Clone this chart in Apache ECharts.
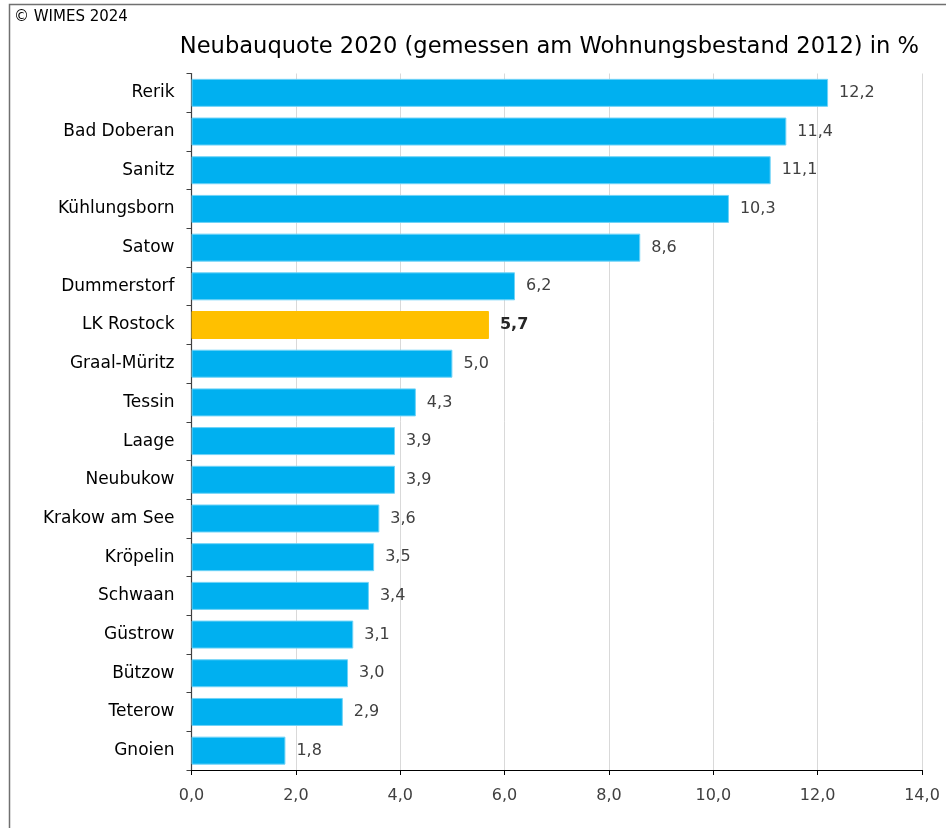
<!DOCTYPE html>
<html>
<head>
<meta charset="utf-8">
<script src="https://cdn.jsdelivr.net/npm/echarts@6/dist/echarts.min.js"></script>
<style>
  html, body { margin: 0; padding: 0; background: #fff; }
  #chart { width: 946px; height: 828px; }
</style>
</head>
<body>
<div id="chart"></div>
<script>
// Gemeinden im Landkreis Rostock, sortiert nach Neubauquote
const categories = [
  'Rerik', 'Bad Doberan', 'Sanitz', 'Kühlungsborn', 'Satow', 'Dummerstorf',
  'LK Rostock', 'Graal-Müritz', 'Tessin', 'Laage', 'Neubukow', 'Krakow am See',
  'Kröpelin', 'Schwaan', 'Güstrow', 'Bützow', 'Teterow', 'Gnoien'
];
const values = [
  12.2, 11.4, 11.1, 10.3, 8.6, 6.2,
  5.7, 5.0, 4.3, 3.9, 3.9, 3.6,
  3.5, 3.4, 3.1, 3.0, 2.9, 1.8
];
const highlight = 'LK Rostock';
const xTicks = { min: 0, max: 14, interval: 2 };

const FONT = 'DejaVu Sans';
const fmt = v => v.toFixed(1).replace('.', ',');

const chart = echarts.init(document.getElementById('chart'), null, { renderer: 'canvas' });

const seriesData = categories.map((c, i) => {
  const hi = c === highlight;
  return {
    value: values[i],
    itemStyle: hi
      ? { color: '#FFC000', borderColor: '#FFC000', borderWidth: 1 }
      : { color: '#00B0F0', borderColor: '#6FD3F7', borderWidth: 1 },
    label: hi ? { fontWeight: 'bold', color: '#262626' } : {}
  };
});

chart.setOption({
  animation: false,
  backgroundColor: '#fff',
  textStyle: { fontFamily: FONT },
  title: {
    text: 'Neubauquote 2020 (gemessen am Wohnungsbestand 2012) in %',
    right: 22,
    top: 31,
    textStyle: { fontFamily: FONT, fontSize: 22.6, fontWeight: 'normal', color: '#000' }
  },
  graphic: [
    {
      type: 'polyline',
      shape: { points: [[9.5, 828], [9.5, 4.5], [946, 4.5]] },
      style: { stroke: '#707070', lineWidth: 1.5, fill: null }
    },
    {
      type: 'text',
      left: 14,
      top: 10,
      style: { text: '© WIMES 2024', font: '15px "' + FONT + '"', fill: '#000' }
    }
  ],
  grid: { left: 191.5, right: 24, top: 73.5, bottom: 58, containLabel: false },
  xAxis: {
    type: 'value',
    min: xTicks.min,
    max: xTicks.max,
    interval: xTicks.interval,
    axisLine: { show: true, lineStyle: { color: '#000', width: 1.2 } },
    axisTick: { show: true, length: 5, lineStyle: { color: '#000' } },
    axisLabel: {
      fontFamily: FONT, fontSize: 16, color: '#404040', margin: 18,
      formatter: v => fmt(v)
    },
    splitLine: { show: true, lineStyle: { color: '#D9D9D9', width: 1 } }
  },
  yAxis: {
    type: 'category',
    data: categories,
    inverse: true,
    axisLine: { show: true, lineStyle: { color: '#404040', width: 1.2 } },
    axisTick: { show: true, length: 5, lineStyle: { color: '#404040' } },
    axisLabel: { fontFamily: FONT, fontSize: 17, color: '#000', margin: 17 }
  },
  series: [{
    type: 'bar',
    data: seriesData,
    barWidth: 28,
    label: {
      show: true,
      position: 'right',
      distance: 11,
      fontFamily: FONT,
      fontSize: 16,
      color: '#404040',
      formatter: p => fmt(p.value)
    }
  }]
});
</script>
</body>
</html>
